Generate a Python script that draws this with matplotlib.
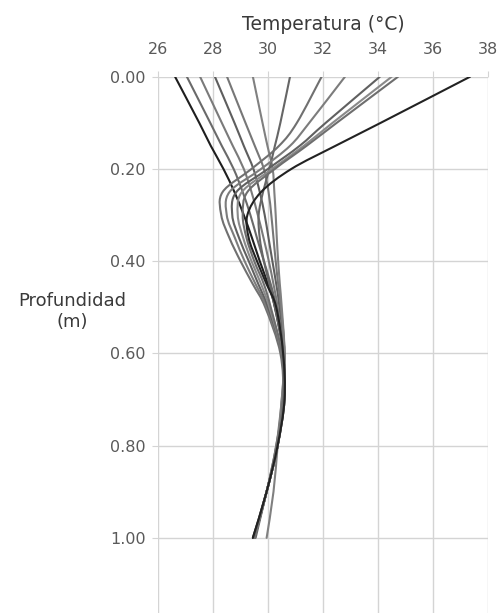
import matplotlib
matplotlib.use("Agg")
import matplotlib.pyplot as plt
from matplotlib.path import Path
from matplotlib.patches import PathPatch

depth = [0.00, 0.10, 0.15, 0.20, 0.25, 0.30, 0.35, 0.40, 0.45, 0.50, 0.60, 0.70, 0.80, 0.90, 1.00]

# Temperature profiles (°C) at each depth
p01 = [26.62, 27.50, 27.92, 28.38, 28.78, 29.12, 29.42, 29.70, 30.00, 30.25, 30.55, 30.60, 30.35, 29.95, 29.45]
p02 = [27.05, 27.90, 28.32, 28.75, 29.08, 29.36, 29.60, 29.85, 30.10, 30.30, 30.55, 30.60, 30.35, 29.95, 29.50]
p03 = [27.53, 28.32, 28.72, 29.12, 29.40, 29.63, 29.84, 30.03, 30.20, 30.35, 30.55, 30.55, 30.35, 29.95, 29.50]
p04 = [28.07, 28.78, 29.12, 29.47, 29.70, 29.88, 30.02, 30.16, 30.30, 30.42, 30.60, 30.55, 30.30, 29.95, 29.50]
p05 = [28.51, 29.18, 29.52, 29.85, 30.02, 30.12, 30.20, 30.28, 30.37, 30.47, 30.60, 30.50, 30.30, 29.95, 29.50]
p06 = [29.45, 29.80, 29.98, 30.17, 30.23, 30.28, 30.32, 30.37, 30.43, 30.50, 30.60, 30.50, 30.35, 30.20, 29.95]
p07 = [30.80, 30.45, 30.25, 30.05, 29.82, 29.66, 29.70, 29.85, 30.05, 30.25, 30.55, 30.55, 30.35, 29.95, 29.55]
p08 = [31.95, 31.05, 30.40, 29.40, 28.35, 28.30, 28.60, 29.00, 29.45, 29.90, 30.45, 30.55, 30.35, 29.95, 29.50]
p09 = [32.80, 31.50, 30.80, 29.75, 28.60, 28.50, 28.80, 29.15, 29.55, 29.95, 30.50, 30.55, 30.35, 29.95, 29.50]
p10 = [34.07, 32.10, 31.15, 30.00, 28.85, 28.70, 28.95, 29.30, 29.65, 30.00, 30.50, 30.55, 30.35, 29.95, 29.50]
p11 = [34.50, 32.35, 31.30, 30.15, 29.05, 28.90, 29.10, 29.40, 29.75, 30.05, 30.50, 30.55, 30.35, 29.95, 29.50]
p12 = [34.73, 32.50, 31.40, 30.25, 29.25, 29.08, 29.22, 29.50, 29.85, 30.10, 30.50, 30.55, 30.35, 29.95, 29.50]
p13 = [37.35, 34.10, 32.45, 30.85, 29.75, 29.25, 29.30, 29.60, 29.95, 30.30, 30.55, 30.60, 30.35, 29.95, 29.45]

profiles = [p01, p02, p03, p04, p05, p06, p07, p08, p09, p10, p11, p12, p13]
colors = ["#1e1e1e", "#6a6a6a", "#7a7a7a", "#5e5e5e", "#777777", "#808080",
          "#666666", "#707070", "#7c7c7c", "#606060", "#8a8a8a", "#6e6e6e", "#222222"]

xticks = [26, 28, 30, 32, 34, 36, 38]
yticks = [0.00, 0.20, 0.40, 0.60, 0.80, 1.00]


def smooth_path(xs, ys):
    """Smoothed line (Catmull-Rom drawn as cubic Bezier) through the data points."""
    pts = list(zip(xs, ys))
    n = len(pts)
    verts = [pts[0]]
    codes = [Path.MOVETO]
    for i in range(n - 1):
        p0 = pts[i - 1] if i > 0 else pts[i]
        p1 = pts[i]
        p2 = pts[i + 1]
        p3 = pts[i + 2] if i + 2 < n else pts[i + 1]
        c1 = (p1[0] + (p2[0] - p0[0]) / 6.0, p1[1] + (p2[1] - p0[1]) / 6.0)
        c2 = (p2[0] - (p3[0] - p1[0]) / 6.0, p2[1] - (p3[1] - p1[1]) / 6.0)
        verts += [c1, c2, p2]
        codes += [Path.CURVE4] * 3
    return Path(verts, codes)


fig = plt.figure(figsize=(5.01, 6.13), dpi=100)
ax = fig.add_axes([158/501, 0.0, (488-158)/501, 1 - 76.7/613])

for prof, c in zip(profiles, colors):
    ax.add_patch(PathPatch(smooth_path(prof, depth), fill=False, edgecolor=c, lw=1.5,
                           capstyle="round", joinstyle="round"))

ax.set_xlim(26, 38)
ax.set_ylim(1.163, 0)
ax.xaxis.tick_top()
ax.xaxis.set_label_position("top")
ax.set_xticks(xticks)
ax.set_xticklabels([str(t) for t in xticks])
ax.set_yticks(yticks)
ax.set_yticklabels([f"{t:.2f}" for t in yticks])
ax.grid(True, color="#d4d4d4", lw=1.0)
ax.set_axisbelow(True)
for s in ax.spines.values():
    s.set_visible(False)
ax.tick_params(axis="both", colors="#d4d4d4", labelcolor="#5a5a5a", labelsize=11.5, length=4)
ax.tick_params(axis="x", pad=10)
ax.tick_params(axis="y", pad=5)
ax.set_xlabel("Temperatura (°C)", fontsize=13.5, color="#3a3a3a", labelpad=9)
ax.text(-0.26, 0.509, "Profundidad\n(m)", transform=ax.get_yaxis_transform(),
        ha="center", va="center", fontsize=13, color="#3a3a3a", linespacing=1.2)

fig.savefig("out.png", dpi=100)
